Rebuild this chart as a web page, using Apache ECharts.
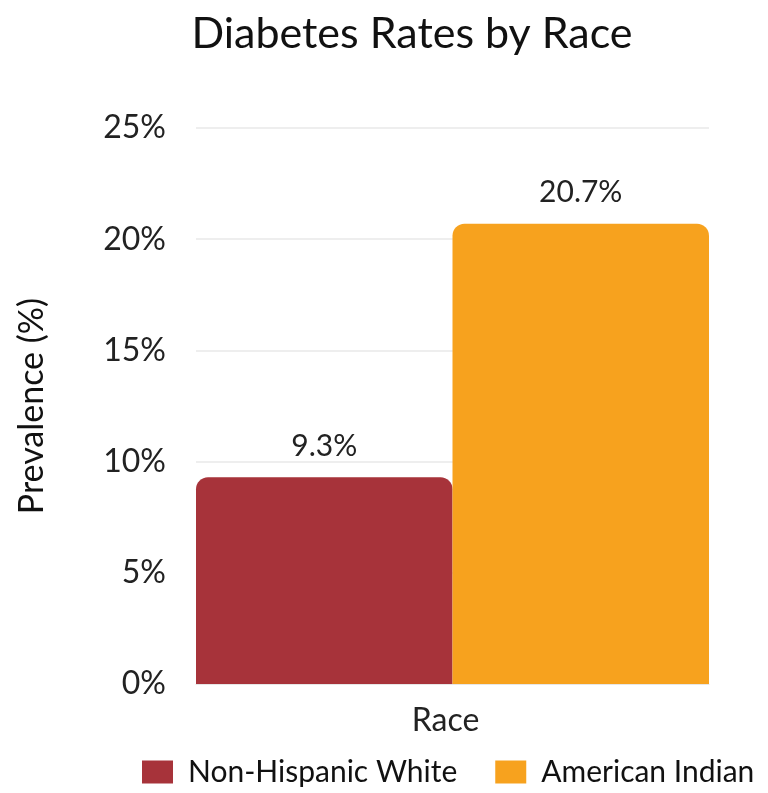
<!DOCTYPE html>
<html>
<head>
<meta charset="utf-8">
<script src="https://cdn.jsdelivr.net/npm/echarts@6/dist/echarts.min.js"></script>
<style>
  html, body { margin: 0; padding: 0; background: #ffffff; }
  #chart { width: 768px; height: 793px; }
</style>
</head>
<body>
<div id="chart"></div>
<script>
// Diabetes prevalence by race (percent)
const categories = ['Race'];
const seriesNames = ['Non-Hispanic White', 'American Indian'];
const nonHispanicWhite = [9.3];
const americanIndian = [20.7];
const seriesColors = ['#A7333A', '#F7A21E'];
const yTicks = { min: 0, max: 25, interval: 5 };

const FONT = 'Lato, "Noto Sans", sans-serif';

const chart = echarts.init(document.getElementById('chart'), null, { renderer: 'canvas' });

function barSeries(name, data, color) {
  return {
    name: name,
    type: 'bar',
    data: data,
    barGap: '0%',
    barCategoryGap: '0%',
    itemStyle: { color: color, borderRadius: [12, 12, 0, 0] },
    label: {
      show: true,
      position: 'top',
      distance: 16,
      formatter: p => p.value + '%',
      fontFamily: FONT,
      fontSize: 30,
      color: '#222'
    }
  };
}

chart.setOption({
  animation: false,
  backgroundColor: '#ffffff',
  title: {
    text: 'Diabetes Rates by Race',
    left: 407,
    textAlign: 'center',
    top: 8,
    textStyle: { fontFamily: FONT, fontSize: 43, fontWeight: 'normal', color: '#111' }
  },
  grid: { left: 196, right: 59, top: 128, bottom: 109, containLabel: false },
  legend: {
    orient: 'horizontal',
    top: 757,
    left: 142,
    right: 0,
    padding: 0,
    itemWidth: 31,
    itemHeight: 23,
    itemGap: 38,
    icon: 'rect',
    textStyle: { fontFamily: FONT, fontSize: 30, color: '#111', padding: [0, 0, 0, 10] },
    data: seriesNames
  },
  xAxis: {
    type: 'category',
    data: categories,
    axisLine: { show: true, lineStyle: { color: '#e6e6e6' } },
    axisTick: { show: false },
    axisLabel: { fontFamily: FONT, fontSize: 32, color: '#222', margin: 21, padding: [0, 14, 0, 0] }
  },
  yAxis: {
    type: 'value',
    min: yTicks.min,
    max: yTicks.max,
    interval: yTicks.interval,
    name: 'Prevalence (%)',
    nameLocation: 'middle',
    nameGap: 147,
    nameRotate: 90,
    nameTextStyle: { fontFamily: FONT, fontSize: 34, color: '#111' },
    axisLine: { show: false },
    axisTick: { show: false },
    axisLabel: { formatter: '{value}%', fontFamily: FONT, fontSize: 32, color: '#222', margin: 30 },
    splitLine: { lineStyle: { color: '#eeeeee', width: 2 } }
  },
  series: [
    barSeries(seriesNames[0], nonHispanicWhite, seriesColors[0]),
    barSeries(seriesNames[1], americanIndian, seriesColors[1])
  ]
});
</script>
</body>
</html>
